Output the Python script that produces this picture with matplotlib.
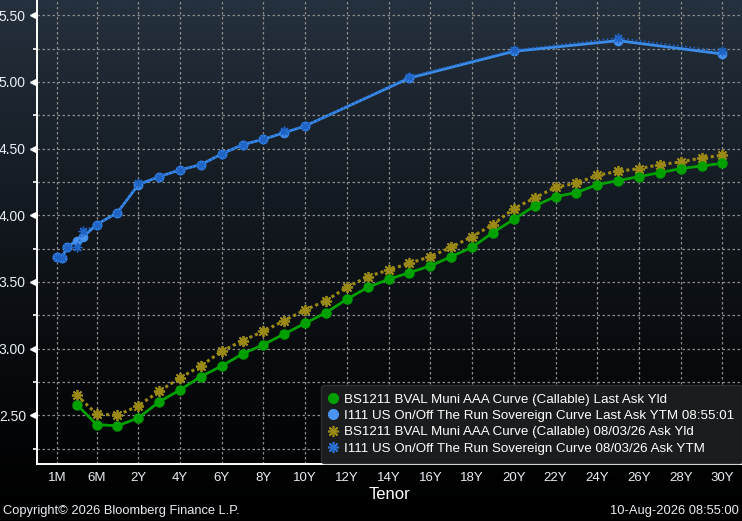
import numpy as np
import matplotlib
matplotlib.use("Agg")
import matplotlib.pyplot as plt
from matplotlib.lines import Line2D

# ---------- data ----------
blue_tenor = [1/12, 0.125, 1/6, 0.25, 1/3, 0.5, 1, 2, 3, 4, 5, 6, 7, 8, 9, 10, 15, 20, 25, 30]
blue_last = [3.69, 3.68, 3.76, 3.81, 3.84, 3.93, 4.02, 4.23, 4.29, 4.34, 4.38, 4.46,
             4.53, 4.57, 4.62, 4.67, 5.03, 5.23, 5.31, 5.21]
blue_prev = [3.69, 3.68, 3.76, 3.76, 3.88, 3.93, 4.02, 4.24, 4.29, 4.34, 4.38, 4.46,
             4.53, 4.57, 4.63, 4.67, 5.04, 5.24, 5.33, 5.23]

muni_tenor = [0.25, 0.5, 1] + list(range(2, 31))
muni_last = [2.58, 2.43, 2.42, 2.48, 2.60, 2.69, 2.79, 2.87, 2.96, 3.03, 3.11, 3.19,
             3.27, 3.37, 3.46, 3.52, 3.57, 3.62, 3.69, 3.76, 3.87, 3.97, 4.07, 4.14,
             4.17, 4.23, 4.26, 4.29, 4.32, 4.35, 4.37, 4.39]
muni_prev = [2.65, 2.51, 2.50, 2.57, 2.68, 2.78, 2.87, 2.98, 3.06, 3.13, 3.21, 3.29,
             3.36, 3.46, 3.54, 3.59, 3.64, 3.69, 3.76, 3.84, 3.93, 4.05, 4.13, 4.21,
             4.24, 4.30, 4.33, 4.35, 4.38, 4.40, 4.43, 4.45]

tick_tenor = [1/12, 0.5] + list(range(2, 31, 2))
tick_labels = ["1M", "6M"] + [f"{y}Y" for y in range(2, 31, 2)]

legend_labels = [
    "BS1211 BVAL Muni AAA Curve (Callable) Last Ask Yld",
    "I111 US On/Off The Run Sovereign Curve Last Ask YTM 08:55:01",
    "BS1211 BVAL Muni AAA Curve (Callable) 08/03/26 Ask Yld",
    "I111 US On/Off The Run Sovereign Curve 08/03/26 Ask YTM",
]

# tenor axis: short end squeezed, linear in years from 2Y
KT = np.array([1/12, 0.25, 0.5, 1.0, 2.0, 30.0])
KP = np.array([-1.9, -0.95, 0.0, 1.0, 2.0, 30.0])


def _pw(v, xs, ys):
    v = np.asarray(v, dtype=float)
    out = np.interp(v, xs, ys)
    lo = v < xs[0]
    hi = v > xs[-1]
    out = np.where(lo, ys[0] + (v - xs[0]) * (ys[1] - ys[0]) / (xs[1] - xs[0]), out)
    out = np.where(hi, ys[-1] + (v - xs[-1]) * (ys[-1] - ys[-2]) / (xs[-1] - xs[-2]), out)
    return out


def fwd(t):
    return _pw(t, KT, KP)


def inv(p):
    return _pw(p, KP, KT)


FONT = ["Liberation Sans", "DejaVu Sans"]
plt.rcParams["font.family"] = FONT
TXT = "#e9eef4"

fig = plt.figure(figsize=(7.42, 5.21), dpi=100)
fig.patch.set_facecolor("black")

# background gradient
bg = fig.add_axes([0, 0, 1, 1], zorder=-10)
top = np.array([0x25, 0x31, 0x3e]) / 255.0
g = np.linspace(1, 0, 256) ** 1.3
grad = (g[:, None] * top[None, :])[:, None, :]
bg.imshow(grad, aspect="auto", extent=[0, 1, 0, 1])
bg.axis("off")

ax = fig.add_axes([37 / 742, 1 - 464 / 521, 1 - 37 / 742, 464 / 521])
ax.set_facecolor("none")
ax.set_xscale("function", functions=(fwd, inv))
ax.set_xlim(inv(-2.857), inv(30.94))
ax.set_ylim(2.134, 5.615)

# grid
ax.set_xticks(tick_tenor)
ax.set_xticklabels(tick_labels)
ax.set_yticks(np.arange(2.5, 5.51, 0.5))
ax.set_yticks(np.arange(2.25, 5.6, 0.25), minor=True)
ax.xaxis.set_minor_locator(matplotlib.ticker.NullLocator())
ax.yaxis.set_major_formatter(matplotlib.ticker.FormatStrFormatter("%.2f"))
ax.grid(True, which="major", axis="x", color="#8c8c8c", linestyle=(0, (2, 2)), linewidth=0.9)
ax.grid(True, which="both", axis="y", color="#8c8c8c", linestyle=(0, (2, 2)), linewidth=0.9)
ax.set_axisbelow(True)

for s in ["top", "right"]:
    ax.spines[s].set_visible(False)
for s in ["left", "bottom"]:
    ax.spines[s].set_color("white")
    ax.spines[s].set_linewidth(1.4)

ax.tick_params(axis="x", which="both", length=0, pad=6, labelcolor=TXT, labelsize=9.5)
ax.tick_params(axis="y", which="major", length=0, pad=8, labelcolor=TXT, labelsize=10)
ax.tick_params(axis="y", which="minor", length=3, width=1.2, color="white")

# little white pointers at the major y ticks
ax.plot(np.full(7, -0.006), np.arange(2.5, 5.51, 0.5), linestyle="none", marker="<",
        markersize=5, color="white", transform=ax.get_yaxis_transform(), clip_on=False)

# series
ax.plot(muni_tenor, muni_prev, color="#9a8914", linestyle=(0, (1, 1)), linewidth=2.2,
        marker=(8, 2, 0), markersize=8, markeredgewidth=1.3, zorder=3)
ax.plot(muni_tenor, muni_last, color="#00a000", linewidth=2.0, marker="o",
        markersize=6.5, zorder=4)
ax.plot(blue_tenor, blue_last, color="#3b8be8", linewidth=2.0, marker="o",
        markersize=6, markerfacecolor="#4a94f0", markeredgecolor="#3b8be8", zorder=4)
ax.plot(blue_tenor, blue_prev, color="#1f63c4", linestyle=(0, (1, 1.5)), linewidth=1.2,
        marker=(8, 2, 0), markersize=7, markeredgewidth=1.0, zorder=5)

ax.set_xlabel("Tenor", color="white", fontsize=12, labelpad=2)

handles = [
    Line2D([], [], linestyle="none", marker="o", color="#00a000", markersize=7),
    Line2D([], [], linestyle="none", marker="o", color="#4a94f0", markersize=7),
    Line2D([], [], linestyle="none", marker=(8, 2, 0), color="#9a8914", markersize=8,
           markeredgewidth=1.2),
    Line2D([], [], linestyle="none", marker=(8, 2, 0), color="#2a6fd0", markersize=8,
           markeredgewidth=1.2),
]
leg = ax.legend(handles, legend_labels, loc="lower right", bbox_to_anchor=(1.0, 0.003),
                frameon=True, fancybox=True, facecolor="#1b1c1e", edgecolor="#2c2d30",
                framealpha=1, fontsize=9.6, labelcolor="white", handlelength=0.6,
                handletextpad=0.5, labelspacing=0.3, borderpad=0.6, borderaxespad=0.0)
leg.set_zorder(10)

fig.text(3 / 742, 4 / 521, "Copyright\u00a9 2026 Bloomberg Finance L.P.", color=TXT,
         fontsize=9.3, ha="left", va="bottom")
fig.text(739 / 742, 4 / 521, "10-Aug-2026 08:55:00", color=TXT, fontsize=9.3,
         ha="right", va="bottom")

fig.savefig("out.png", dpi=100, facecolor=fig.get_facecolor())
